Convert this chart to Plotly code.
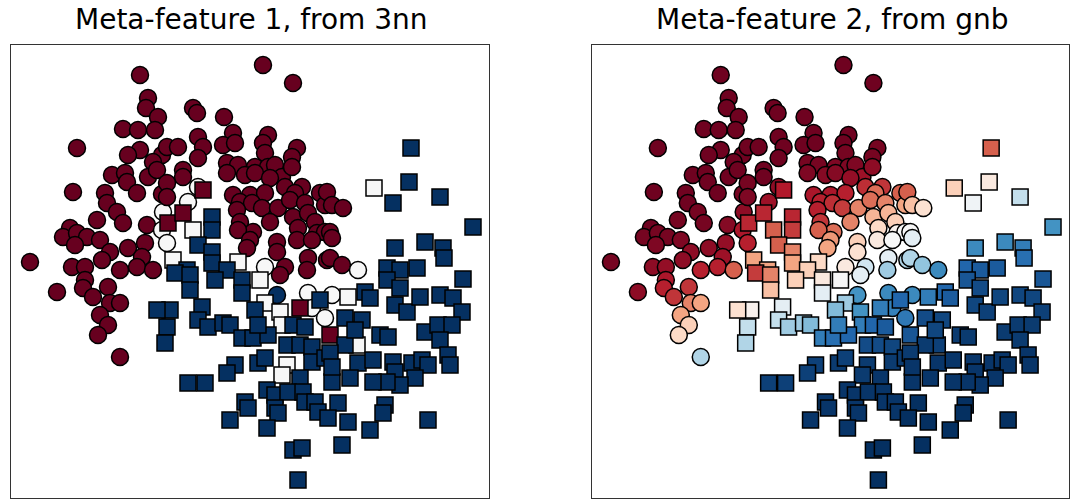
import plotly.graph_objects as go
from plotly.colors import diverging

# Class 0 samples (drawn as circles)
circle_x = [13.0, 13.8, 13.6, 14.8, 11.3, 12.8, 14.5, 6.7, 13.0, 11.8,
            15.2, 14.3, 15.7, 10.2, 11.5, 11.7, 13.8, 14.7, 6.3, 9.5,
            12.7, 15.2, 9.7, 10.7, 8.7, 11.3, 6.0, 5.3, 6.7, 7.7,
            9.0, 6.5, 13.7, 10.0, 11.8, 13.5, 13.2, 9.2, 2.0, 6.2,
            7.5, 11.0, 12.7, 14.3, 15.3, 15.2, 15.7, 25.3, 28.3, 18.3,
            18.7, 21.4, 18.8, 22.3, 25.8, 16.8, 19.3, 21.3, 22.5, 25.3,
            28.7, 18.8, 25.5, 28.2, 17.3, 17.3, 21.7, 22.8, 24.5, 25.8,
            26.5, 21.7, 23.5, 24.5, 27.2, 28.2, 26.0, 27.5, 29.2, 31.0,
            22.3, 24.0, 25.5, 28.5, 23.0, 24.2, 25.2, 26.8, 28.0, 29.5,
            31.5, 22.7, 28.3, 29.8, 30.5, 23.0, 26.0, 24.3, 22.8, 28.8,
            30.7, 31.5, 24.0, 26.7, 28.7, 30.2, 23.7, 26.7, 29.8, 31.7,
            27.5, 15.7, 15.7, 18.8, 17.8, 25.5, 31.7, 32.2, 33.3, 32.0,
            32.2, 32.0, 33.2, 34.8, 4.7, 7.5, 7.3, 8.3, 9.8, 10.0,
            11.0, 9.0, 9.8, 8.8, 11.0, 26.7, 29.8, 30.2, 31.5, 27.0,
            29.7, 32.2]
circle_y = [42.5, 40.2, 39.2, 38.3, 37.1, 37.0, 37.0, 35.2, 35.0, 34.5,
            34.5, 33.8, 35.3, 32.5, 32.7, 31.8, 32.3, 33.0, 30.8, 30.7,
            30.7, 30.6, 29.7, 28.8, 28.0, 27.7, 27.2, 26.3, 26.7, 26.3,
            26.0, 25.5, 27.5, 24.8, 25.2, 25.7, 24.3, 24.0, 23.8, 23.3,
            23.3, 23.0, 23.3, 23.0, 28.8, 27.0, 25.7, 43.5, 41.7, 39.2,
            38.7, 38.3, 36.3, 36.7, 36.5, 35.3, 35.3, 35.5, 35.7, 35.7,
            35.2, 34.2, 34.7, 34.3, 33.0, 32.3, 33.7, 33.5, 33.3, 33.3,
            33.5, 32.7, 32.5, 32.7, 32.3, 33.3, 32.2, 31.3, 31.3, 30.7,
            30.5, 30.5, 30.7, 30.7, 29.8, 29.7, 29.2, 29.2, 30.0, 29.7,
            29.5, 29.0, 28.3, 28.7, 27.8, 27.8, 27.8, 26.8, 27.0, 27.2,
            26.7, 26.8, 26.0, 25.8, 26.0, 26.0, 25.2, 24.8, 24.2, 24.0,
            23.3, 31.7, 30.3, 31.3, 29.8, 23.3, 30.8, 29.5, 29.2, 26.8,
            26.2, 24.2, 23.5, 23.0, 20.8, 22.0, 21.2, 20.3, 21.3, 19.7,
            19.7, 18.5, 17.5, 16.5, 14.3, 20.5, 20.7, 19.2, 18.2, 22.5,
            23.0, 20.5]
# Meta-feature 1: 3-nearest-neighbour output for each circle
circle_3nn = [0, 0, 0, 0, 0, 0, 0, 0, 0, 0,
              0, 0, 0, 0, 0, 0, 0, 0, 0, 0,
              0, 0, 0, 0, 0, 0, 0, 0, 0, 0,
              0, 0, 0, 0, 0, 0, 0, 0, 0, 0,
              0, 0, 0, 0, 0.5, 0.5, 0.5, 0, 0, 0,
              0, 0, 0, 0, 0, 0, 0, 0, 0, 0,
              0, 0, 0, 0, 0, 0, 0, 0, 0, 0,
              0, 0, 0, 0, 0, 0, 0, 0, 0, 0,
              0, 0, 0, 0, 0, 0, 0, 0, 0, 0,
              0, 0, 0, 0, 0, 0, 0, 0, 0, 0,
              0, 0, 0, 0, 0, 0, 0, 0, 0, 0,
              0, 0, 0, 0.5, 0.5, 0.5, 0, 0, 0, 0,
              0, 0, 0, 0.5, 0, 0, 0, 0, 0, 0,
              0, 0, 0, 0, 0, 1, 0.5, 0.5, 0.5, 0,
              0, 0.5]
# Meta-feature 2: Gaussian naive Bayes probability for each circle
circle_gnb = [0.01, 0.01, 0.01, 0.01, 0.01, 0.01, 0.01, 0.01, 0.01, 0.01,
              0.01, 0.01, 0.01, 0.01, 0.01, 0.01, 0.01, 0.01, 0.01, 0.01,
              0.01, 0.02, 0.01, 0.02, 0.02, 0.02, 0.01, 0.02, 0.02, 0.02,
              0.03, 0.03, 0.04, 0.05, 0.05, 0.06, 0.07, 0.05, 0.02, 0.05,
              0.06, 0.11, 0.11, 0.20, 0.05, 0.09, 0.11, 0.01, 0.01, 0.01,
              0.01, 0.01, 0.01, 0.01, 0.01, 0.01, 0.01, 0.01, 0.01, 0.01,
              0.02, 0.01, 0.02, 0.02, 0.01, 0.01, 0.02, 0.02, 0.03, 0.03,
              0.03, 0.03, 0.04, 0.04, 0.07, 0.05, 0.06, 0.13, 0.14, 0.20,
              0.09, 0.09, 0.11, 0.22, 0.11, 0.13, 0.15, 0.25, 0.22, 0.25,
              0.30, 0.11, 0.33, 0.33, 0.38, 0.14, 0.25, 0.22, 0.20, 0.40,
              0.48, 0.50, 0.28, 0.38, 0.45, 0.50, 0.30, 0.42, 0.55, 0.65,
              0.60, 0.02, 0.03, 0.05, 0.07, 0.45, 0.20, 0.35, 0.42, 0.50,
              0.55, 0.65, 0.70, 0.82, 0.05, 0.09, 0.11, 0.14, 0.14, 0.25,
              0.30, 0.30, 0.38, 0.40, 0.65, 0.80, 0.82, 0.84, 0.86, 0.55,
              0.68, 0.82]

# Class 1 samples (drawn as squares)
square_x = [15.8, 17.3, 19.3, 29.0, 32.0, 18.3, 16.3, 22.8, 36.4, 25.0,
            25.5, 27.0, 27.2, 27.7, 27.2, 33.8, 34.7, 20.2, 20.2, 18.8,
            20.2, 20.2, 17.7, 21.7, 16.5, 18.0, 18.0, 20.5, 23.2, 23.2,
            19.2, 18.8, 16.0, 14.7, 15.7, 15.5, 19.8, 21.3, 22.0, 23.2,
            24.3, 24.5, 25.8, 24.8, 28.3, 29.5, 27.7, 29.0, 30.2, 30.2,
            31.5, 22.5, 21.7, 24.8, 25.5, 29.0, 17.8, 19.5, 23.5, 23.8,
            25.7, 26.5, 27.8, 29.3, 29.5, 30.5, 30.8, 26.5, 26.8, 22.0,
            25.7, 28.3, 29.2, 28.8, 40.1, 39.9, 38.3, 43.0, 46.3, 38.5,
            41.5, 43.3, 43.4, 37.7, 39.0, 40.7, 45.3, 37.7, 39.0, 35.5,
            36.0, 38.5, 39.7, 41.0, 43.0, 44.3, 45.2, 35.2, 37.0, 37.8,
            41.5, 42.8, 44.2, 43.0, 43.8, 44.0, 33.5, 32.0, 34.8, 36.3,
            38.3, 38.5, 40.2, 41.2, 41.8, 40.5, 39.0, 37.7, 36.3, 32.2,
            34.0, 32.8, 37.5, 37.3, 33.8, 36.0, 31.8, 41.8, 33.2, 32.2,
            31.0, 33.5, 34.5]
square_y = [27.7, 28.7, 31.0, 19.2, 16.5, 27.0, 24.0, 23.8, 31.2, 22.0,
            19.7, 18.8, 17.5, 13.5, 12.5, 20.3, 15.5, 28.3, 27.0, 25.5,
            24.8, 23.7, 23.0, 23.0, 22.7, 22.5, 21.0, 22.0, 22.0, 20.7,
            19.3, 18.0, 19.0, 19.0, 17.3, 15.7, 17.3, 17.7, 17.5, 16.2,
            16.2, 19.0, 16.5, 17.5, 17.5, 17.3, 15.5, 15.5, 15.3, 13.8,
            14.2, 13.5, 12.7, 13.7, 14.2, 12.2, 11.7, 11.7, 9.8, 9.2,
            11.0, 10.5, 10.8, 10.8, 9.8, 9.8, 8.8, 9.2, 8.7, 8.0,
            7.2, 5.0, 5.2, 2.0, 35.2, 31.8, 29.7, 30.3, 27.3, 25.2,
            25.8, 25.2, 24.2, 23.2, 23.0, 23.2, 22.1, 22.0, 21.2, 20.8,
            20.2, 19.5, 18.8, 20.3, 20.5, 20.2, 18.8, 18.0, 16.5, 16.3,
            16.8, 17.5, 17.5, 16.0, 14.5, 13.5, 15.5, 14.7, 13.7, 14.0,
            13.8, 12.8, 13.7, 14.0, 13.5, 12.2, 11.5, 11.8, 11.8, 11.8,
            12.2, 9.7, 9.5, 8.7, 7.8, 7.0, 8.2, 8.0, 5.5, 13.3,
            20.0, 18.2, 17.0]
square_3nn = [0, 0, 0, 0, 0, 0.5, 0.5, 0.5, 0.5, 0.5,
              0.5, 0.5, 0.5, 0.5, 0.5, 0.5, 0.5, 1, 1, 1,
              1, 1, 1, 1, 1, 1, 1, 1, 1, 1,
              1, 1, 1, 1, 1, 1, 1, 1, 1, 1,
              1, 1, 1, 1, 1, 1, 1, 1, 1, 1,
              1, 1, 1, 1, 1, 1, 1, 1, 1, 1,
              1, 1, 1, 1, 1, 1, 1, 1, 1, 1,
              1, 1, 1, 1, 1, 1, 1, 1, 1, 1,
              1, 1, 1, 1, 1, 1, 1, 1, 1, 1,
              1, 1, 1, 1, 1, 1, 1, 1, 1, 1,
              1, 1, 1, 1, 1, 1, 1, 1, 1, 1,
              1, 1, 1, 1, 1, 1, 1, 1, 1, 1,
              1, 1, 1, 1, 1, 1, 1, 1, 1, 1,
              1, 1, 1]
square_gnb = [0.12, 0.12, 0.10, 0.85, 0.93, 0.20, 0.30, 0.40, 0.38, 0.50,
              0.68, 0.80, 0.85, 0.98, 0.98, 0.85, 0.97, 0.12, 0.15, 0.20,
              0.25, 0.30, 0.30, 0.38, 0.15, 0.25, 0.35, 0.38, 0.45, 0.55,
              0.55, 0.62, 0.48, 0.42, 0.62, 0.65, 0.68, 0.68, 0.72, 0.85,
              0.88, 0.72, 0.90, 0.85, 0.90, 0.92, 0.95, 0.95, 0.96, 0.98,
              0.98, 0.97, 0.97, 0.98, 0.97, 0.99, 0.97, 0.97, 0.99, 0.99,
              0.99, 0.99, 0.99, 0.99, 0.99, 0.99, 0.99, 0.99, 0.99, 0.99,
              0.99, 1.00, 1.00, 1.00, 0.20, 0.45, 0.52, 0.62, 0.80, 0.82,
              0.82, 0.85, 0.88, 0.90, 0.92, 0.92, 0.93, 0.93, 0.95, 0.90,
              0.92, 0.96, 0.97, 0.96, 0.96, 0.96, 0.97, 0.96, 0.98, 0.98,
              0.98, 0.98, 0.98, 0.98, 0.99, 0.99, 0.98, 0.98, 0.99, 0.99,
              0.99, 0.99, 0.99, 0.99, 0.99, 0.99, 0.99, 0.99, 0.99, 0.99,
              0.99, 1.00, 1.00, 1.00, 1.00, 1.00, 1.00, 1.00, 1.00, 0.99,
              0.90, 0.95, 0.96]

titles = ["Meta-feature 1, from 3nn", "Meta-feature 2, from gnb"]

# Matplotlib-style RdBu: 0 -> dark red, 1 -> dark blue
rdbu = diverging.RdBu
colorscale = [[i / (len(rdbu) - 1), c] for i, c in enumerate(rdbu)]

fig = go.Figure()

panels = [
    ("x", "y", circle_3nn, square_3nn),
    ("x2", "y2", circle_gnb, square_gnb),
]
for xa, ya, c_vals, s_vals in panels:
    fig.add_trace(go.Scatter(
        x=circle_x, y=circle_y, mode="markers", xaxis=xa, yaxis=ya,
        marker=dict(symbol="circle", size=17, color=c_vals,
                    colorscale=colorscale, cmin=0, cmax=1,
                    line=dict(color="black", width=1.5)),
        showlegend=False, hoverinfo="skip",
    ))
    fig.add_trace(go.Scatter(
        x=square_x, y=square_y, mode="markers", xaxis=xa, yaxis=ya,
        marker=dict(symbol="square", size=16, color=s_vals,
                    colorscale=colorscale, cmin=0, cmax=1,
                    line=dict(color="black", width=1.5)),
        showlegend=False, hoverinfo="skip",
    ))

W, H = 1073, 501
axis_style = dict(showline=True, mirror=True, linecolor="#333333", linewidth=1.3,
                  showgrid=False, zeroline=False, showticklabels=False, ticks="")
y_dom = [1 - 498 / H, 1 - 45 / H]

fig.update_layout(
    width=W, height=H,
    margin=dict(l=0, r=0, t=0, b=0),
    paper_bgcolor="white", plot_bgcolor="white",
    xaxis=dict(domain=[11 / W, 489 / W], range=[0.1, 47.9], **axis_style),
    yaxis=dict(domain=y_dom, range=[0.2, 45.5], **axis_style),
    xaxis2=dict(domain=[592 / W, 1069 / W], range=[0.1, 47.9], **axis_style),
    yaxis2=dict(domain=y_dom, range=[0.2, 45.5], anchor="x2", **axis_style),
    annotations=[
        dict(text=titles[0], x=252 / W, y=1 - 20 / H, xref="paper", yref="paper",
             xanchor="center", yanchor="middle", showarrow=False,
             font=dict(family="DejaVu Sans", size=28, color="black")),
        dict(text=titles[1], x=832 / W, y=1 - 20 / H, xref="paper", yref="paper",
             xanchor="center", yanchor="middle", showarrow=False,
             font=dict(family="DejaVu Sans", size=28, color="black")),
    ],
)

fig.write_html("out.html")
